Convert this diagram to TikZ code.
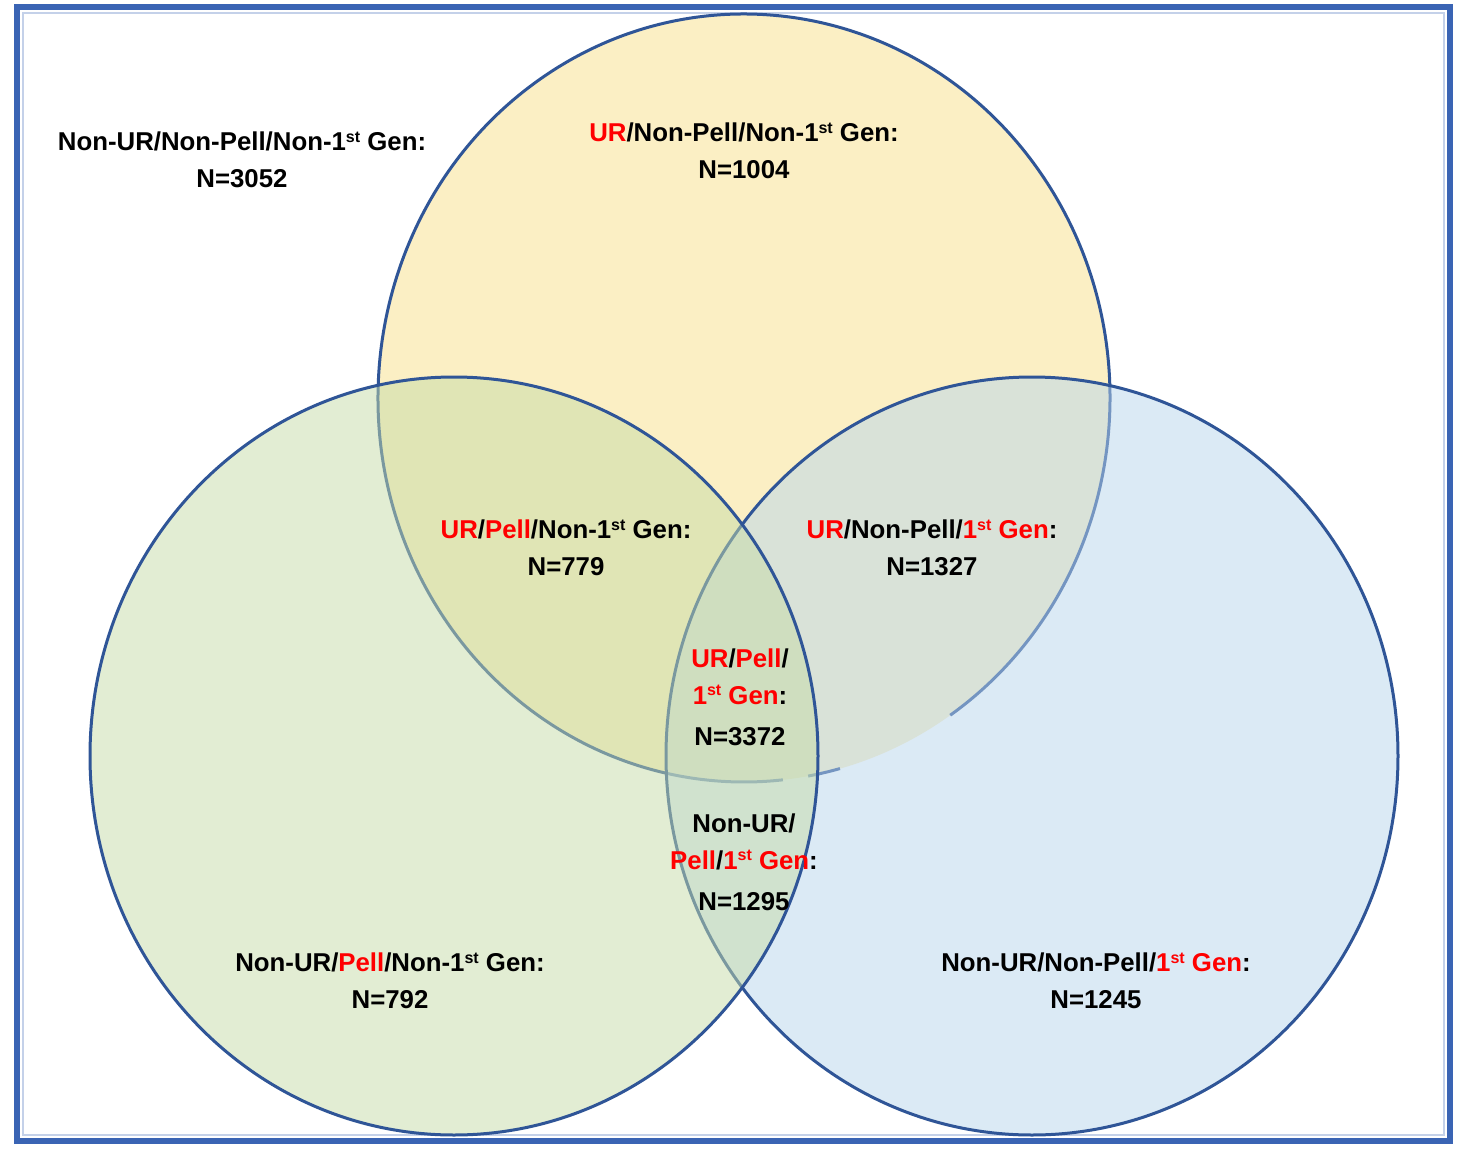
\documentclass[tikz,border=0pt]{standalone}
\usepackage{fontspec}
\setmainfont{Liberation Sans}
\definecolor{ln}{HTML}{2F5597}
\definecolor{frm}{HTML}{3A64B4}
\definecolor{yel}{HTML}{F9E08A}
\definecolor{grn}{HTML}{C6DCA8}
\definecolor{blu}{HTML}{B9D6EC}
\newcommand{\rd}[1]{\textcolor{red}{#1}}
\newcommand{\sts}{\raisebox{0.62ex}{\fontsize{8}{8}\selectfont st}}
\begin{document}
\begin{tikzpicture}[x=0.5pt,y=0.5pt,
  lbl/.style={font=\bfseries\fontsize{12.9}{18.5}\selectfont, align=center, inner sep=0pt, text=black},
  ring/.style={draw=ln, line width=1.5pt},
]
\useasboundingbox (0,0) rectangle (1458,-1151);
\fill[white] (0,0) rectangle (1458,-1151);
% frame
\draw[frm, line width=2.8pt] (17,-7) rectangle (1450,-1141);
\draw[frm!30, line width=0.8pt] (23,-13) rectangle (1444,-1135);
% top circle (yellow)
\fill[yel, fill opacity=0.5] (744,-398) ellipse [x radius=366, y radius=384];
\draw[ring] (744,-398) ++(-55.7:366 and 384) arc[start angle=-55.7, end angle=276.1, x radius=366, y radius=384];
\draw[ring] (744,-398) ++(-79.9:366 and 384) arc[start angle=-79.9, end angle=-74.8, x radius=366, y radius=384];
% right circle (blue)
\filldraw[ring, fill=blu, fill opacity=0.5] (1032,-756) ellipse [x radius=366, y radius=379];
% left circle (green)
\filldraw[ring, fill=grn, fill opacity=0.5] (454,-756) ellipse [x radius=364, y radius=379];
% labels
\node[lbl] (n0) at (242,-160) {Non-UR/Non-Pell/Non-1\sts{} Gen:\\N=3052};
\node[lbl] (n1) at (744,-151) {\rd{UR}/Non-Pell/Non-1\sts{} Gen:\\N=1004};
\node[lbl] (n2) at (566,-548) {\rd{UR}/\rd{Pell}/Non-1\sts{} Gen:\\N=779};
\node[lbl] (n3) at (932,-548) {\rd{UR}/Non-Pell/\rd{1\sts{} Gen}:\\N=1327};
\node[lbl] (n4) at (740,-697) {\rd{UR}/\rd{Pell}/\\\rd{1\sts{} Gen}:\\[2pt]N=3372};
\node[lbl] (n5) at (744,-862) {Non-UR/\\\rd{Pell}/\rd{1\sts{} Gen}:\\[2pt]N=1295};
\node[lbl] (n6) at (390,-981) {Non-UR/\rd{Pell}/Non-1\sts{} Gen:\\N=792};
\node[lbl] (n7) at (1096,-981) {Non-UR/Non-Pell/\rd{1\sts{} Gen}:\\N=1245};
\end{tikzpicture}
\end{document}
